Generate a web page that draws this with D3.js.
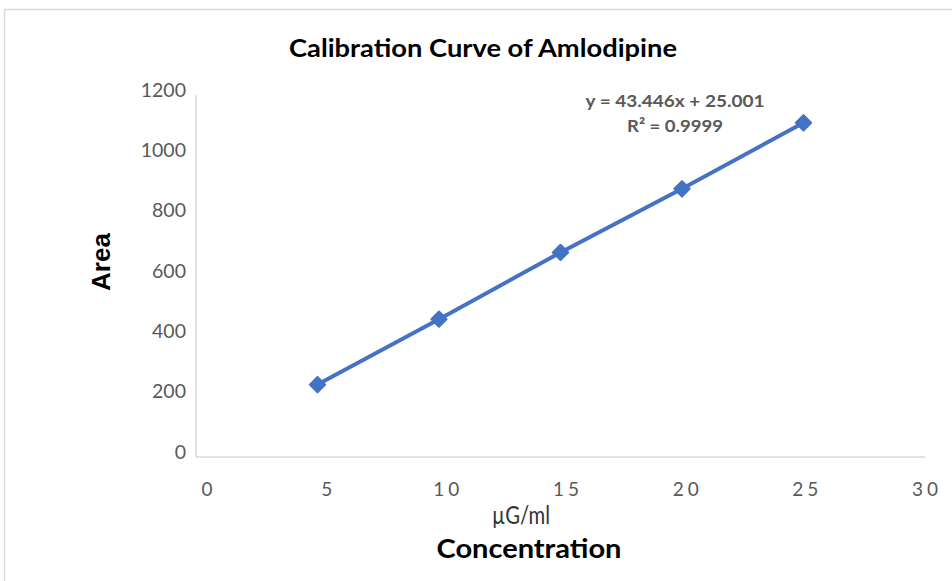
<!DOCTYPE html>
<html><head><meta charset="utf-8">
<script src="https://cdn.jsdelivr.net/npm/d3@7"></script>
<style>body{margin:0;background:#fff}svg{display:block}</style>
</head><body>
<svg id="c" width="952" height="581"></svg>
<script>
const concentrations = [5, 10, 15, 20, 25];
const areas = [240, 457, 678, 889, 1108];
const xTicks = [0, 5, 10, 15, 20, 25, 30];
const yTicks = [0, 200, 400, 600, 800, 1000, 1200];
const titleText = "Calibration Curve of Amlodipine";
const equationLines = ["y = 43.446x + 25.001", "R² = 0.9999"];
const xUnit = "µG/ml";
const xTitle = "Concentration";
const yTitle = "Area";

const svg = d3.select("#c");
svg.append("rect").attr("x", 4.5).attr("y", 9.5).attr("width", 960).attr("height", 600)
  .attr("fill", "#fff").attr("stroke", "#d9d9d9").attr("stroke-width", 1.5);

const x = d3.scaleLinear().domain([0, 30]).range([196, 925]);
const xLab = d3.scaleLinear().domain([0, 30]).range([207, 925]);
const y = d3.scaleLinear().domain([0, 1200]).range([457, 95]);

svg.append("line").attr("x1", x(0)).attr("x2", x(30)).attr("y1", y(0)).attr("y2", y(0))
  .attr("stroke", "#d9d9d9").attr("stroke-width", 1.5);
svg.append("line").attr("x1", x(0)).attr("x2", x(0)).attr("y1", y(0)).attr("y2", y(1200))
  .attr("stroke", "#d9d9d9").attr("stroke-width", 1.5);

svg.selectAll(".yt").data(yTicks).join("text")
  .attr("x", 186).attr("y", d => y(d) - 5).attr("dy", "0.35em")
  .attr("text-anchor", "end").attr("font-family", "Lato").attr("font-size", 19.5)
  .attr("fill", "#595959").text(d => d);

svg.selectAll(".xt").data(xTicks).join("text")
  .attr("x", d => xLab(d) + 2).attr("y", 496)
  .attr("text-anchor", "middle").attr("font-family", "Lato").attr("font-size", 19)
  .attr("letter-spacing", 4).attr("fill", "#595959").text(d => d);

const line = d3.line().x((d, i) => x(concentrations[i])).y(d => y(d));
svg.append("path").datum(areas).attr("d", line).attr("fill", "none")
  .attr("stroke", "#4472C4").attr("stroke-width", 4);
svg.selectAll(".m").data(areas).join("path")
  .attr("d", d3.symbol(d3.symbolDiamond2, 150))
  .attr("transform", (d, i) => `translate(${x(concentrations[i])},${y(d)})`)
  .attr("fill", "#4472C4").attr("stroke", "#4472C4").attr("stroke-width", 2).attr("stroke-linejoin", "round");

svg.append("text").attr("x", 483).attr("y", 57).attr("text-anchor", "middle")
  .attr("font-family", "Lato").attr("font-weight", "bold").attr("font-size", 24)
  .attr("textLength", 388).attr("lengthAdjust", "spacingAndGlyphs")
  .attr("fill", "#000").text(titleText);

svg.selectAll(".eq").data(equationLines).join("text")
  .attr("x", 675).attr("y", (d, i) => 107 + i * 25).attr("text-anchor", "middle")
  .attr("font-family", "Lato").attr("font-weight", "bold").attr("font-size", 17.5)
  .attr("textLength", (d, i) => i === 0 ? 179 : 96).attr("lengthAdjust", "spacingAndGlyphs")
  .attr("fill", "#595959").text(d => d);

svg.append("text").attr("transform", "translate(110,262) rotate(-90)").attr("text-anchor", "middle")
  .attr("font-family", "Liberation Sans").attr("font-weight", "bold").attr("font-size", 26)
  .attr("fill", "#000").text(yTitle);
svg.append("text").attr("x", 521).attr("y", 524).attr("text-anchor", "middle")
  .attr("font-family", "Lato").attr("font-size", 25).attr("fill", "#333")
  .attr("textLength", 58).attr("lengthAdjust", "spacingAndGlyphs").text(xUnit);
svg.append("text").attr("x", 529).attr("y", 558).attr("text-anchor", "middle")
  .attr("font-family", "Lato").attr("font-weight", "bold").attr("font-size", 27)
  .attr("textLength", 185).attr("lengthAdjust", "spacingAndGlyphs")
  .attr("fill", "#000").text(xTitle);
</script>
</body></html>
